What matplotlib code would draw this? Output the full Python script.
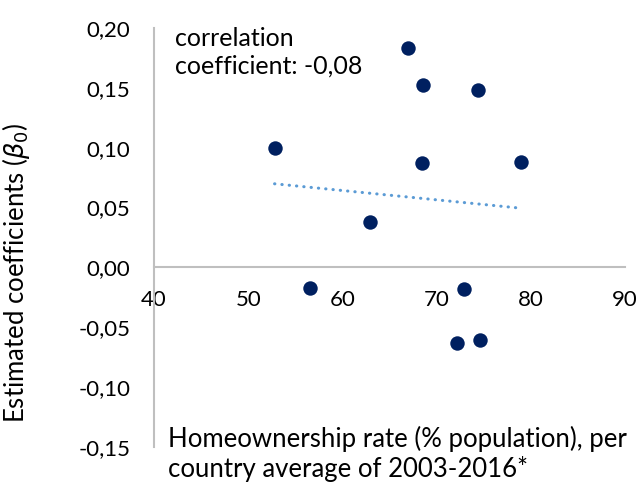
import matplotlib
matplotlib.use('Agg')
import matplotlib.pyplot as plt
import numpy as np
from matplotlib.ticker import FuncFormatter

plt.rcParams['font.family'] = ['Lato', 'DejaVu Sans']
plt.rcParams['mathtext.fontset'] = 'dejavusans'

# Homeownership rate (%) vs estimated coefficient, per country
homeownership = [52.8, 56.6, 62.9, 67.0, 68.6, 68.5, 72.9, 72.2, 74.4, 74.6, 79.0]
coefficients = [0.100, -0.017, 0.038, 0.183, 0.152, 0.087, -0.018, -0.063, 0.148, -0.061, 0.088]

x_ticks = [40, 50, 60, 70, 80, 90]
y_ticks = [-0.15, -0.10, -0.05, 0.00, 0.05, 0.10, 0.15, 0.20]

fig = plt.figure(figsize=(6.39, 4.83), dpi=100)
ax = fig.add_axes([154/639, 1 - 447/483, (625-154)/639, (447-28)/483])

ax.scatter(homeownership, coefficients, s=108, color='#002060', zorder=3, linewidths=0)

# linear trendline over the data range
x = np.array(homeownership)
slope, intercept = np.polyfit(x, coefficients, 1)
xl = np.array([x.min(), x.max()])
ax.plot(xl, slope * xl + intercept, color='#5b9bd5', linewidth=2.2,
        linestyle=(0, (0.1, 2.3)), dash_capstyle='round', zorder=2)

ax.set_xlim(40, 90)
ax.set_ylim(-0.15, 0.20)
ax.set_xticks(x_ticks)
ax.set_yticks(y_ticks)
ax.yaxis.set_major_formatter(FuncFormatter(lambda v, p: f"{v:.2f}".replace('.', ',')))

for s in ['top', 'right']:
    ax.spines[s].set_visible(False)
ax.spines['bottom'].set_position(('data', 0))
ax.spines['left'].set_position(('data', 40))
for s in ['bottom', 'left']:
    ax.spines[s].set_color('#bfbfbf')
    ax.spines[s].set_linewidth(1.5)

ax.tick_params(axis='both', length=0, labelsize=16, colors='#000000')
ax.tick_params(axis='y', pad=17)
ax.tick_params(axis='x', pad=16)

ax.set_ylabel(r"Estimated coefficients ($\beta_0$)", fontsize=18.5)
ax.yaxis.set_label_coords(-0.258, 0.415)

fig.text(168/639, 1 - 454/483, "Homeownership rate (% population), per\ncountry average of 2003-2016*",
         fontsize=18.5, va='center', ha='left', linespacing=1.22)
fig.text(175/639, 1 - 52/483, "correlation\ncoefficient: -0,08",
         fontsize=18, va='center', ha='left', linespacing=1.25)

fig.savefig('out.png', dpi=100, facecolor='white')
